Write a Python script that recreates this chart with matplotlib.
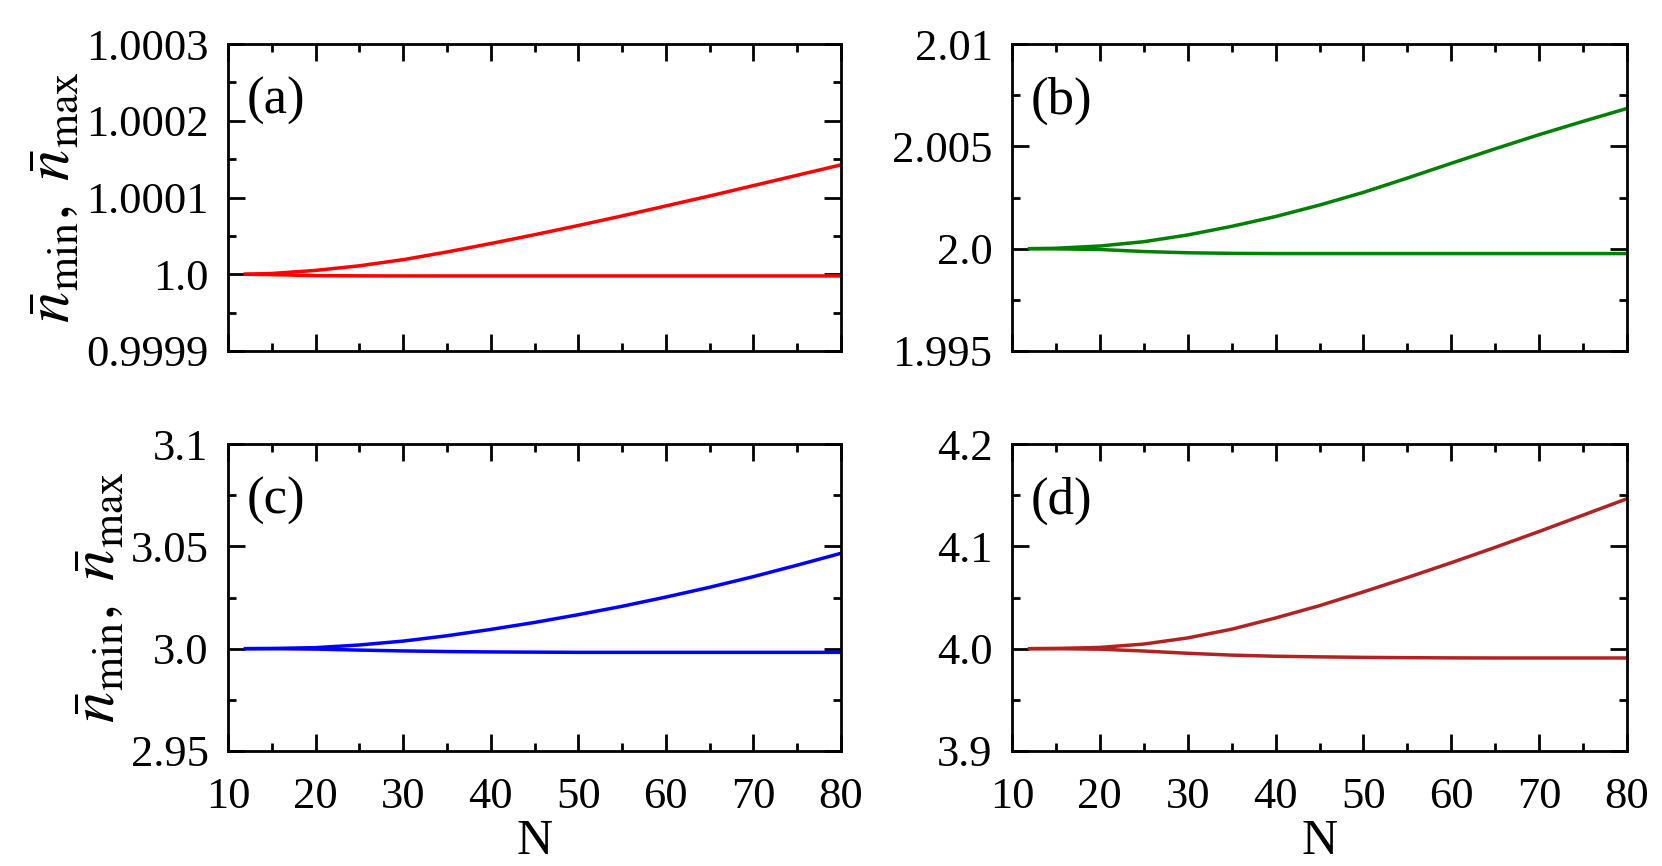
import matplotlib
matplotlib.use("Agg")
import matplotlib.pyplot as plt
from matplotlib.ticker import FixedLocator, MultipleLocator

plt.rcParams['font.family'] = ['Liberation Serif', 'DejaVu Serif']
plt.rcParams['mathtext.fontset'] = 'stix'

N = [12, 15, 20, 25, 30, 35, 40, 45, 50, 55, 60, 65, 70, 75, 80]

a_max = [1.0, 1.0000010, 1.0000050, 1.0000110, 1.0000190, 1.0000290, 1.0000400, 1.0000515,
         1.0000635, 1.0000760, 1.0000890, 1.0001020, 1.0001155, 1.0001290, 1.0001425]
a_min = [1.0, 0.9999995, 0.9999982, 0.9999979, 0.9999978, 0.9999978, 0.9999978, 0.9999978,
         0.9999978, 0.9999978, 0.9999978, 0.9999978, 0.9999978, 0.9999978, 0.9999978]

b_max = [2.0, 2.00002, 2.00013, 2.00034, 2.00067, 2.00109, 2.00157, 2.00213,
         2.00275, 2.00345, 2.00417, 2.00488, 2.00557, 2.00622, 2.00685]
b_min = [2.0, 1.99999, 1.99996, 1.99986, 1.99980, 1.99977, 1.99976, 1.99976,
         1.99976, 1.99976, 1.99976, 1.99976, 1.99976, 1.99976, 1.99976]

c_max = [3.0, 3.0001, 3.0005, 3.0018, 3.0037, 3.0063, 3.0094, 3.0128,
         3.0166, 3.0207, 3.0252, 3.0300, 3.0352, 3.0408, 3.0466]
c_min = [3.0, 3.0, 2.9998, 2.9993, 2.9989, 2.9986, 2.9984, 2.9983,
         2.9982, 2.9982, 2.9982, 2.9982, 2.9982, 2.9982, 2.9982]

d_max = [4.0, 4.0002, 4.0012, 4.0045, 4.0105, 4.0190, 4.0300, 4.0420,
         4.0555, 4.0695, 4.0840, 4.0990, 4.1145, 4.1305, 4.1465]
d_min = [4.0, 4.0, 3.9995, 3.9977, 3.9955, 3.9937, 3.9926, 3.9920,
         3.9915, 3.9912, 3.9910, 3.9909, 3.9909, 3.9909, 3.9909]

a_ticks = [0.9999, 1.0, 1.0001, 1.0002, 1.0003]
a_labels = ['0.9999', '1.0', '1.0001', '1.0002', '1.0003']
b_ticks = [1.995, 2.0, 2.005, 2.01]
b_labels = ['1.995', '2.0', '2.005', '2.01']
c_ticks = [2.95, 3.0, 3.05, 3.1]
c_labels = ['2.95', '3.0', '3.05', '3.1']
d_ticks = [3.9, 4.0, 4.1, 4.2]
d_labels = ['3.9', '4.0', '4.1', '4.2']

x_ticks = [10, 20, 30, 40, 50, 60, 70, 80]

panels = [
    ('(a)', a_max, a_min, 'red', a_ticks, a_labels),
    ('(b)', b_max, b_min, 'green', b_ticks, b_labels),
    ('(c)', c_max, c_min, 'blue', c_ticks, c_labels),
    ('(d)', d_max, d_min, '#b22222', d_ticks, d_labels),
]

W, H = 1662, 866
fig = plt.figure(figsize=(W / 100, H / 100), dpi=100)

lefts = [228, 1012]
widths = [613, 615]
tops = [44, 444]
height = 307

fs = 32
ylab = r'$\bar{n}_{\rm min},\ \bar{n}_{\rm max}$'

for i, (tag, ymax, ymin, col, yt, yl) in enumerate(panels):
    r, c = divmod(i, 2)
    ax = fig.add_axes([lefts[c] / W, 1 - (tops[r] + height) / H, widths[c] / W, height / H])
    ax.plot(N, ymax, color=col, lw=2.5)
    ax.plot(N, ymin, color=col, lw=2.5)
    ax.set_xlim(10, 80)
    ax.set_ylim(yt[0], yt[-1])
    ax.xaxis.set_major_locator(FixedLocator(x_ticks))
    ax.xaxis.set_minor_locator(MultipleLocator(5))
    ax.yaxis.set_major_locator(FixedLocator(yt))
    step = (yt[-1] - yt[0]) / (len(yt) - 1) / 2
    ax.yaxis.set_minor_locator(FixedLocator([yt[0] + step * k for k in range(2 * (len(yt) - 1) + 1)]))
    ax.set_yticklabels(yl)
    ax.tick_params(which='both', direction='in', top=True, right=True, width=2)
    ax.tick_params(which='major', length=12, labelsize=fs, pad=14)
    ax.tick_params(axis='x', which='major', pad=19)
    ax.tick_params(which='minor', length=6)
    for sp in ax.spines.values():
        sp.set_linewidth(2)
    if r == 0:
        ax.set_xticklabels([])
    else:
        fig.text((lefts[c] + widths[c] / 2) / W, 1 / H, 'N', fontsize=fs + 4,
                 ha='center', va='bottom')
    if c == 0:
        ax.set_ylabel(ylab, fontsize=fs + 13, labelpad=2)
    ax.text(0.03, 0.815, tag, transform=ax.transAxes, fontsize=fs + 6, va='center', ha='left')

fig.savefig('out.png', dpi=100)
